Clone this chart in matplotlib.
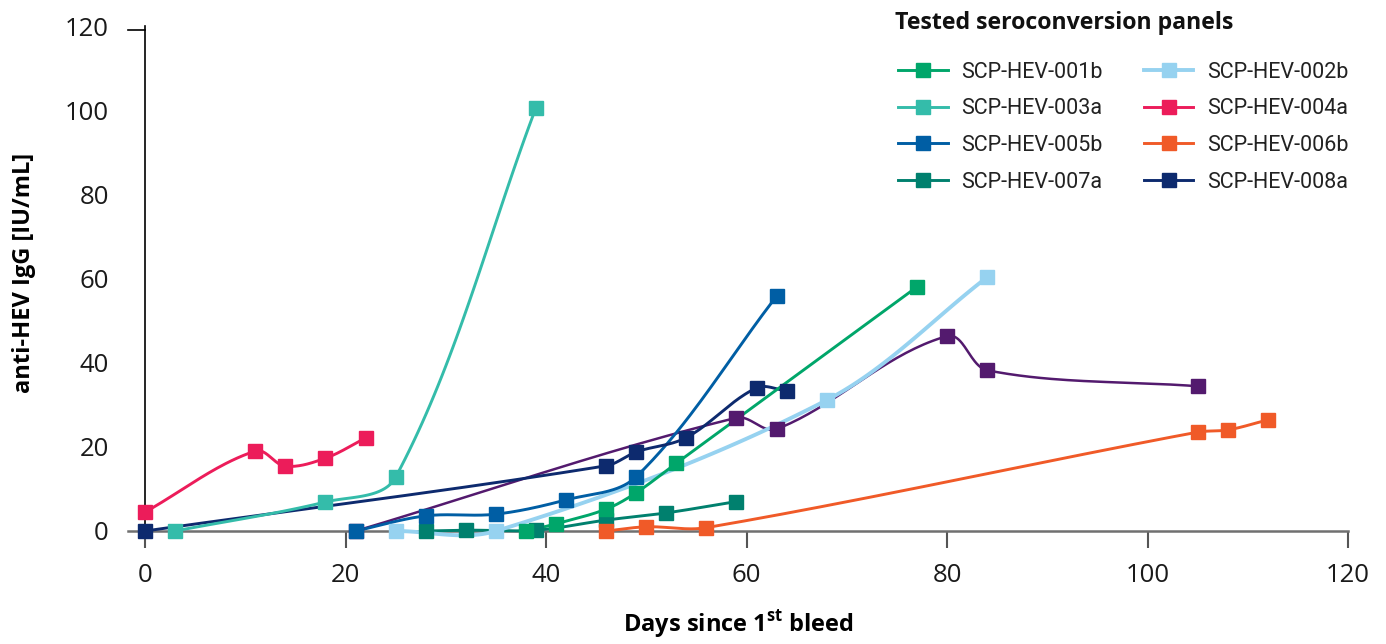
import numpy as np
import matplotlib
matplotlib.use("Agg")
import matplotlib.pyplot as plt
from matplotlib.lines import Line2D

plt.rcParams['font.family'] = ['Open Sans', 'DejaVu Sans']
plt.rcParams['mathtext.fontset'] = 'custom'
plt.rcParams['mathtext.rm'] = 'Open Sans'
plt.rcParams['mathtext.bf'] = 'Open Sans:bold'

# data (days since 1st bleed, IU/mL)
days_001b = [38, 41, 46, 49, 53, 77]
igg_001b = [0.0, 1.7, 5.2, 9.1, 16.1, 58.0]

days_002b = [25, 35, 68, 84]
igg_002b = [0.0, 0.0, 31.1, 60.3]

days_003a = [3, 18, 25, 39]
igg_003a = [0.0, 6.9, 12.8, 100.6]

days_004a = [0, 11, 14, 18, 22]
igg_004a = [4.5, 19.0, 15.4, 17.3, 22.1]

days_005b = [21, 28, 35, 42, 49, 63]
igg_005b = [0.0, 3.6, 4.0, 7.4, 12.9, 55.8]

days_006b = [46, 50, 56, 105, 108, 112]
igg_006b = [0.0, 1.0, 0.8, 23.5, 24.0, 26.4]

days_007a = [28, 32, 39, 46, 52, 59]
igg_007a = [0.0, 0.2, 0.2, 2.6, 4.3, 7.0]

days_008a = [0, 46, 49, 54, 61, 64]
igg_008a = [0.0, 15.5, 18.8, 22.2, 34.0, 33.3]

# extra panel drawn without a legend entry
days_extra = [21, 59, 63, 80, 84, 105]
igg_extra = [0.0, 26.9, 24.2, 46.3, 38.2, 34.4]

colors = {
    '001b': '#00a66a', '002b': '#96d2f0', '003a': '#34bcaa', '004a': '#ec1c5a',
    '005b': '#005ea4', '006b': '#f05a28', '007a': '#00806e', '008a': '#0d2a6e',
    'extra': '#531a6e',
}


def smooth(xs, ys, sx=10.03, sy=4.21, n=40):
    # excel-like smoothed line: bezier segments, tangent from neighbours
    pts = np.column_stack([np.asarray(xs, float) * sx, np.asarray(ys, float) * sy])
    out = [pts[0]]
    m = len(pts)
    for i in range(m - 1):
        p1, p2 = pts[i], pts[i + 1]
        p0 = pts[i - 1] if i > 0 else p1
        p3 = pts[i + 2] if i + 2 < m else p2
        d = np.hypot(*(p2 - p1))
        t1 = p2 - p0
        t1 = t1 / np.hypot(*t1)
        t2 = p3 - p1
        t2 = t2 / np.hypot(*t2)
        c1 = p1 + t1 * d / 3
        c2 = p2 - t2 * d / 3
        t = np.linspace(0, 1, n)[1:, None]
        seg = ((1 - t) ** 3) * p1 + 3 * ((1 - t) ** 2) * t * c1 + 3 * (1 - t) * t ** 2 * c2 + t ** 3 * p2
        out.extend(seg)
    out = np.array(out)
    return out[:, 0] / sx, out[:, 1] / sy


fig = plt.figure(figsize=(13.86, 6.44), dpi=100)
ax = fig.add_axes([128 / 1386, 113 / 644, (1348 - 128) / 1386, (531 - 26) / 644])

series = [
    ('extra', days_extra, igg_extra, 1.8),
    ('007a', days_007a, igg_007a, 2.1),
    ('002b', days_002b, igg_002b, 2.8),
    ('005b', days_005b, igg_005b, 2.1),
    ('008a', days_008a, igg_008a, 2.1),
    ('003a', days_003a, igg_003a, 2.1),
    ('004a', days_004a, igg_004a, 2.1),
    ('001b', days_001b, igg_001b, 2.1),
    ('006b', days_006b, igg_006b, 2.1),
]

for key, xs, ys, lw in series:
    sxs, sys_ = smooth(xs, ys)
    ax.plot(sxs, sys_, color=colors[key], lw=lw, zorder=3, clip_on=False, solid_capstyle='butt')
    ax.plot(xs, ys, ls='none', marker='s', markersize=10, color=colors[key], zorder=4, clip_on=False)

ax.set_xlim(-1.7, 120)
ax.set_ylim(0, 120)

for s in ['top', 'right']:
    ax.spines[s].set_visible(False)
ax.spines['left'].set_position(('data', 0))
ax.spines['left'].set_color('black')
ax.spines['left'].set_linewidth(1.2)
ax.spines['bottom'].set_color('#707070')
ax.spines['bottom'].set_linewidth(1.8)

ax.set_xticks(range(0, 121, 20))
ax.set_yticks(range(0, 121, 20))
ax.tick_params(axis='x', direction='out', length=12, width=1.5, color='#555555', pad=11, labelsize=18.5, labelcolor='#1a1a1a')
ax.tick_params(axis='y', length=0, pad=26, labelsize=18.5, labelcolor='#1a1a1a')
# short mark at the top of the y axis
ax.plot([-1.7, 0], [119.1, 119.1], color='black', lw=1.2, clip_on=False, zorder=2)

ax.set_ylabel('anti-HEV IgG [IU/mL]', fontsize=17, fontweight='bold')
ax.yaxis.set_label_coords(-0.075, 0.511)
ax.set_xlabel(r'Days since 1$^{\mathbf{st}}$ bleed', fontsize=17, fontweight='bold', labelpad=15)

fig.text(895 / 1386, 1 - 23 / 644, 'Tested seroconversion panels', fontsize=16.7, fontweight='bold',
         ha='left', va='center', color='#111111')

order = ['001b', '003a', '005b', '007a', '002b', '004a', '006b', '008a']
handles = [Line2D([], [], color=colors[k], lw=2.8 if k == '002b' else 2.1, marker='s', markersize=10) for k in order]
labels = ['SCP-HEV-' + k for k in order]
leg = ax.legend(handles, labels, ncol=2, loc='upper left', bbox_to_anchor=(898 / 1386, 1 - 62 / 644),
                bbox_transform=fig.transFigure, frameon=False, borderpad=0, borderaxespad=0,
                prop={'family': 'Roboto', 'size': 15.5},
                handlelength=2.3, handletextpad=0.65, columnspacing=1.9,
                labelspacing=0.72)
for t in leg.get_texts():
    t.set_color('#222222')

fig.savefig('out.png', dpi=100)
